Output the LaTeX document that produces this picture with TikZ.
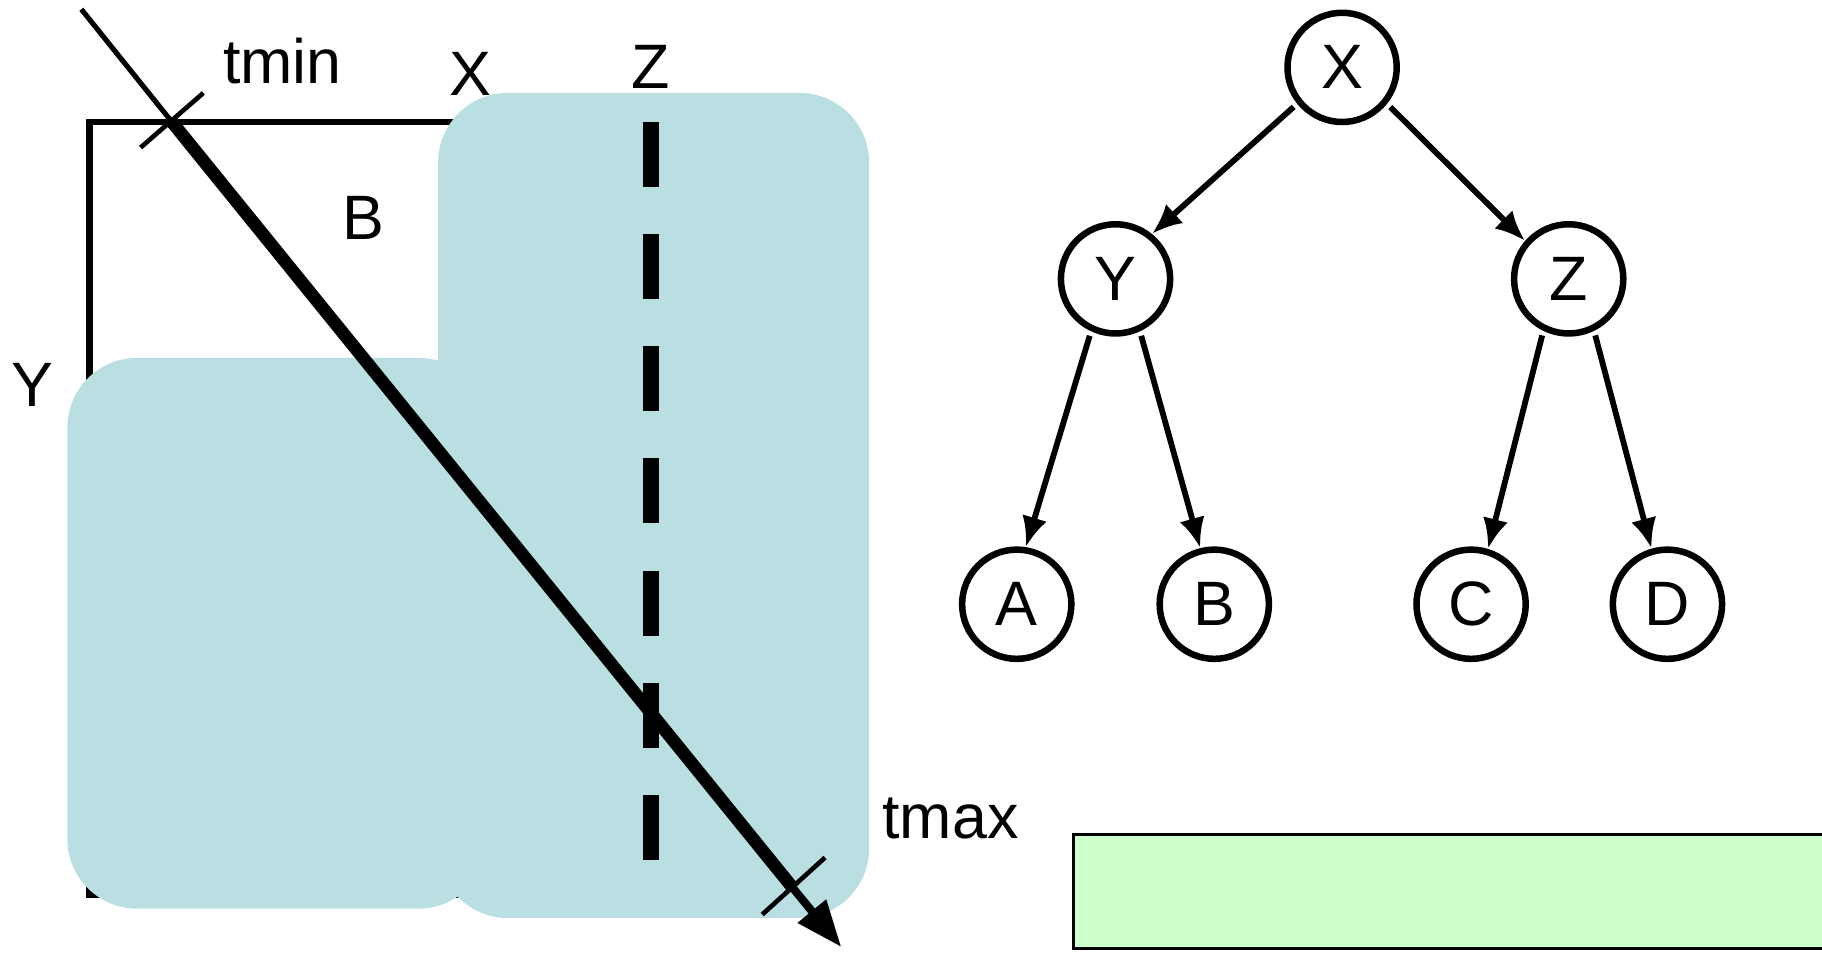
\documentclass[tikz,border=0pt]{standalone}
\usepackage{fontspec}
\setmainfont{Liberation Sans}
\usepackage{tikz}
\usetikzlibrary{arrows.meta,positioning,calc}
\definecolor{kdInk}{HTML}{000000}
\definecolor{kdCell}{HTML}{B9DFE2}
\definecolor{kdLeaf}{HTML}{CCFFCC}
\tikzset{
  treeNode/.style={
    circle,
    draw=kdInk,
    line width=2.8pt,
    minimum size=47pt,
    inner sep=0pt,
    font=\fontsize{27}{30}\selectfont
  },
  treeEdge/.style={
    -{Latex[length=13pt,width=11pt]},
    line width=2.5pt,
    draw=kdInk,
    shorten <=2pt
  },
  cellBox/.style={
    fill=kdCell,
    draw=none,
    rounded corners=30pt
  },
  boundBox/.style={
    draw=kdInk,
    line width=3pt
  },
  splitLine/.style={
    draw=kdInk,
    line width=7pt,
    dash pattern=on 28pt off 20.25pt
  },
  rayThin/.style={draw=kdInk,line width=2.2pt},
  rayThick/.style={draw=kdInk,line width=5.5pt},
  rayTail/.style={
    draw=kdInk,
    line width=3.5pt,
    -{Triangle[length=20pt,width=15pt]}
  },
  tickMark/.style={draw=kdInk,line width=2pt},
  tagText/.style={
    anchor=base,
    inner sep=0pt,
    font=\fontsize{27}{30}\selectfont
  },
  leafBar/.style={fill=kdLeaf,draw=none}
}

\begin{document}
\begin{tikzpicture}[x=0.5pt,y=-0.5pt]
  \useasboundingbox (0,0) rectangle (1568,822);

  \draw[boundBox] (77,105) rectangle (560,770);
  \fill[cellBox] (58,308) rectangle (420,782);
  \fill[cellBox] (377,80) rectangle (748,790);
  \draw[splitLine] (560,105) -- (560,740);

  \node[tagText] (tagTmin) at (243,72) {tmin};
  \node[tagText] (tagX) at (405,82) {X};
  \node[tagText] (tagZ) at (560,76) {Z};
  \node[tagText] (tagB) at (313,206) {B};
  \node[tagText] (tagY) at (28,350) {Y};
  \node[tagText] (tagTmax) at (818,722) {tmax};

  \coordinate (rayStart) at (70,8);
  \coordinate (tminPt) at (148,105);
  \coordinate (tmaxPt) at (683,765);
  \coordinate (rayEnd) at (724,815);
  \draw[rayThin] (rayStart) -- (tminPt);
  \draw[rayThick] (tminPt) -- (tmaxPt);
  \draw[rayTail] (tmaxPt) -- (rayEnd);
  \draw[tickMark] ($(tminPt)+(-27,22)$) -- ($(tminPt)+(27,-25)$);
  \draw[tickMark] ($(tmaxPt)+(-27,22)$) -- ($(tmaxPt)+(27,-27)$);

  \node[treeNode] (nodeX) at (1155,58) {X};
  \node[treeNode] (nodeY) at (960,240) {Y};
  \node[treeNode] (nodeZ) at (1350,240) {Z};
  \node[treeNode] (nodeA) at (875,520) {A};
  \node[treeNode] (nodeB) at (1045,520) {B};
  \node[treeNode] (nodeC) at (1266,520) {C};
  \node[treeNode] (nodeD) at (1435,520) {D};
  \draw[treeEdge] (nodeX.219) -- (nodeY.51);
  \draw[treeEdge] (nodeX.321) -- (nodeZ.139);
  \draw[treeEdge] (nodeY.245) -- (nodeA.81);
  \draw[treeEdge] (nodeY.295) -- (nodeB.104);
  \draw[treeEdge] (nodeZ.244) -- (nodeC.73);
  \draw[treeEdge] (nodeZ.296) -- (nodeD.106);

  \fill[leafBar] (924,718) rectangle (1568,816);
  \draw[line width=1.2pt,draw=kdInk] (1568,718) -| (924,816) -- (1568,816);
\end{tikzpicture}
\end{document}
